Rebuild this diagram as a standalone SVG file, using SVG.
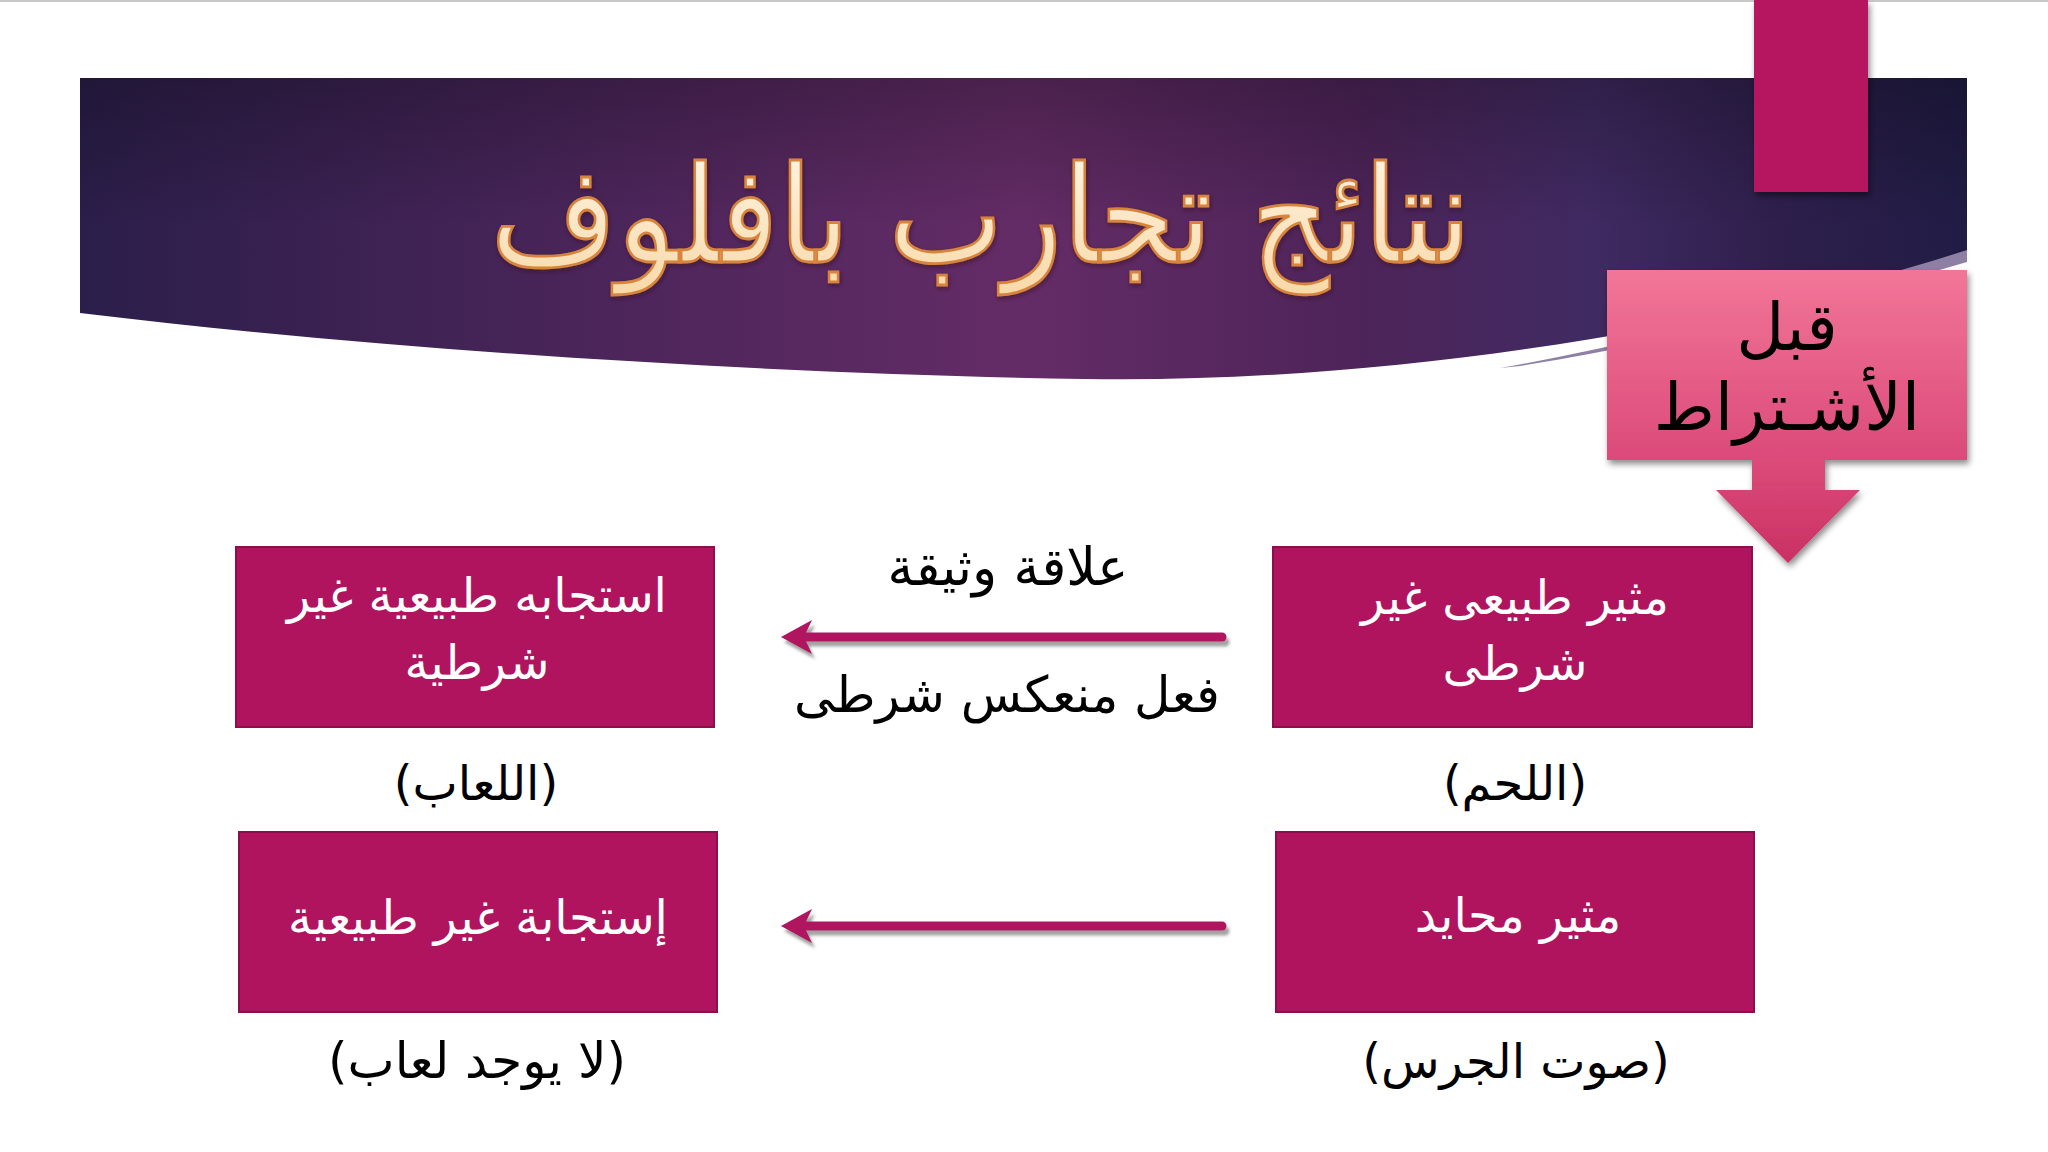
<svg xmlns="http://www.w3.org/2000/svg" width="2048" height="1152" viewBox="0 0 2048 1152">
<defs>
<style>
.ar{font-family:"DejaVu Sans",sans-serif;}
.node rect.box{fill:#B0145F;stroke:#8A0F4A;stroke-width:2;}
.node text{fill:#FFFFFF;font-size:48px;text-anchor:middle;}
.lbl{fill:#000000;font-size:48px;text-anchor:middle;}
.conn line{stroke:#B0145F;stroke-width:9;stroke-linecap:round;}
.conn path{fill:#B0145F;}
</style>
<linearGradient id="ban" x1="0" y1="0" x2="1" y2="0">
<stop offset="0" stop-color="#2B1E4A"/>
<stop offset="0.3" stop-color="#4E265C"/>
<stop offset="0.5" stop-color="#642C66"/>
<stop offset="0.68" stop-color="#4D2459"/>
<stop offset="0.8" stop-color="#402A62"/>
<stop offset="0.9" stop-color="#2E1F4C"/>
<stop offset="1" stop-color="#211C45"/>
</linearGradient>
<linearGradient id="banv" x1="0" y1="0" x2="0" y2="1">
<stop offset="0" stop-color="#000" stop-opacity="0.25"/>
<stop offset="0.5" stop-color="#000" stop-opacity="0"/>
<stop offset="1" stop-color="#000" stop-opacity="0"/>
</linearGradient>
<linearGradient id="pinkbox" x1="0" y1="0" x2="0" y2="1">
<stop offset="0" stop-color="#F27698"/>
<stop offset="1" stop-color="#DB4A7A"/>
</linearGradient>
<linearGradient id="pinkarrow" x1="0" y1="0" x2="0" y2="1">
<stop offset="0" stop-color="#DC4C7B"/>
<stop offset="1" stop-color="#C93063"/>
</linearGradient>
<linearGradient id="titlefill" x1="0" y1="0" x2="0" y2="1">
<stop offset="0" stop-color="#FFF6E8"/>
<stop offset="1" stop-color="#F8D9A8"/>
</linearGradient>
<filter id="sh" x="-10%" y="-10%" width="130%" height="140%">
<feDropShadow dx="2" dy="4" stdDeviation="3" flood-color="#000" flood-opacity="0.45"/>
</filter>
<filter id="ash" x="-5%" y="-100%" width="110%" height="400%">
<feDropShadow dx="3" dy="5" stdDeviation="1.5" flood-color="#555" flood-opacity="0.55"/>
</filter>
<filter id="tsh" x="-5%" y="-20%" width="110%" height="140%">
<feDropShadow dx="1" dy="2" stdDeviation="2" flood-color="#3a1020" flood-opacity="0.6"/>
</filter>
</defs>

<rect x="0" y="0" width="2048" height="1152" fill="#FFFFFF"/>
<rect x="0" y="0" width="2048" height="2" fill="#C8C8C8"/>

<g id="banner">
<path d="M1967,244 L1967,262 C1820,305 1680,340 1520,366 L1500,368 C1680,336 1830,292 1967,244 Z" fill="#7A6A94" opacity="0.85"/>
<path d="M80,78 H1967 V250 C1720,330 1380,384 1084,379 C780,374 400,352 80,313 Z" fill="url(#ban)"/>
<path d="M80,78 H1967 V250 C1720,330 1380,384 1084,379 C780,374 400,352 80,313 Z" fill="url(#banv)"/>
<text class="ar" x="981" y="262" font-size="122" text-anchor="middle" fill="url(#titlefill)" stroke="#D8843C" stroke-width="2.5" filter="url(#tsh)" transform="translate(0,262) scale(1,1.1) translate(0,-262)">نتائج تجارب بافلوف</text>
</g>

<g id="ribbon">
<rect x="1754" y="0" width="114" height="192" fill="#B5135F" filter="url(#sh)"/>
</g>

<g id="before-conditioning" filter="url(#sh)">
<rect x="1607" y="270" width="360" height="190" fill="url(#pinkbox)"/>
<path d="M1752,458 H1825 V490 H1860 L1788,563 L1716,490 H1752 Z" fill="url(#pinkarrow)"/>
<text class="ar" x="1787" y="350" font-size="66" text-anchor="middle" fill="#000">قبل</text>
<text class="ar" x="1787" y="430" font-size="66" text-anchor="middle" fill="#000">الأشـتراط</text>
</g>

<g id="connectors" class="conn" filter="url(#ash)">
<line x1="1222" y1="637" x2="800" y2="637"/>
<path d="M781,637 L812,620 L804,637 L812,654 Z"/>
<line x1="1222" y1="926" x2="800" y2="926"/>
<path d="M781,926 L812,909 L804,926 L812,943 Z"/>
</g>

<g id="edge-labels" class="ar">
<text class="lbl" x="1008" y="585" font-size="52px" style="font-size:52px">علاقة وثيقة</text>
<text class="lbl" x="1007" y="712" style="font-size:50px">فعل منعكس شرطى</text>
</g>

<g id="ucs" class="node ar">
<rect class="box" x="1273" y="547" width="479" height="180"/>
<text x="1515" y="614">مثير طبيعى غير</text>
<text x="1515" y="680">شرطى</text>
</g>

<g id="ucs-label" class="ar">
<text class="lbl" x="1515" y="800">(اللحم)</text>
</g>

<g id="ns" class="node ar">
<rect class="box" x="1276" y="832" width="478" height="180"/>
<text x="1518" y="932">مثير محايد</text>
</g>

<g id="ns-label" class="ar">
<text class="lbl" x="1516" y="1078">(صوت الجرس)</text>
</g>

<g id="ucr" class="node ar">
<rect class="box" x="236" y="547" width="478" height="180"/>
<text x="477" y="612">استجابه طبيعية غير</text>
<text x="477" y="679">شرطية</text>
</g>

<g id="ucr-label" class="ar">
<text class="lbl" x="476" y="800">(اللعاب)</text>
</g>

<g id="nr" class="node ar">
<rect class="box" x="239" y="832" width="478" height="180"/>
<text x="478" y="934">إستجابة غير طبيعية</text>
</g>

<g id="nr-label" class="ar">
<text class="lbl" x="477" y="1078" style="font-size:50px">(لا يوجد لعاب)</text>
</g>
</svg>
